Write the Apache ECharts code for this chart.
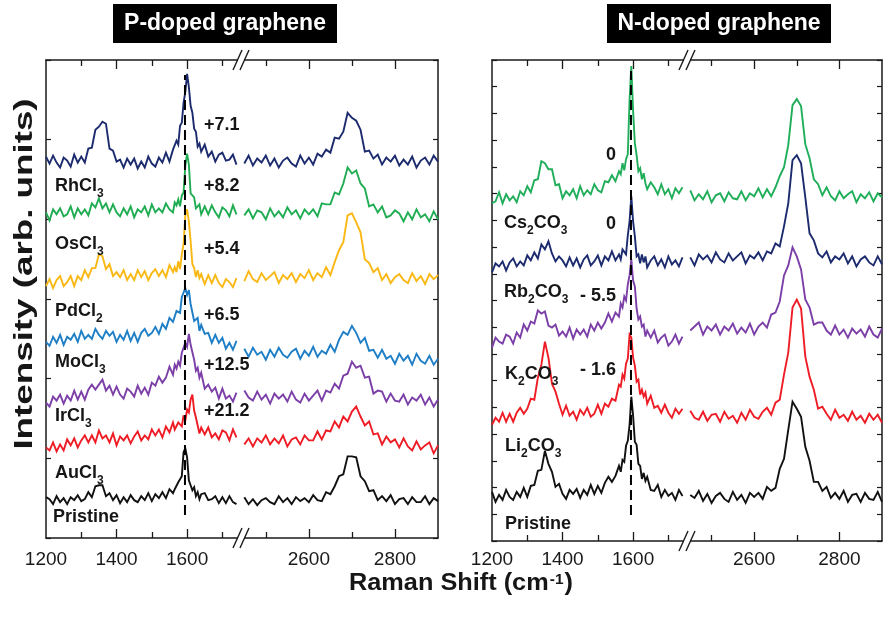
<!DOCTYPE html>
<html><head><meta charset="utf-8">
<script src="https://cdn.jsdelivr.net/npm/echarts@6/dist/echarts.min.js"></script>
<style>html,body{margin:0;padding:0;background:#fff}#c{width:884px;height:625px}</style>
</head><body><div id="c"></div>
<script>
// ---- x grids (Raman shift, cm-1) ----
const xLeft = [1200,1210,1220,1230,1240,1250,1260,1270,1280,1290,1300,1310,1320,1330,1340,1350,1360,1370,1380,1390,1400,1410,1420,1430,1440,1450,1460,1470,1480,1490,1500,1510,1520,1530,1540,1550,1560,1565,1570,1575,1580,1585,1590,1595,1600,1605,1610,1615,1620,1625,1630,1635,1640,1650,1660,1670,1680,1690,1700,1710,1720,1730,1740];
const xRight = [2450,2460,2470,2480,2490,2500,2510,2520,2530,2540,2550,2560,2570,2580,2590,2600,2610,2620,2630,2640,2650,2660,2670,2680,2690,2700,2710,2720,2730,2740,2750,2760,2770,2780,2790,2800,2810,2820,2830,2840,2850,2860,2870,2880,2890,2900];

// ---- tick labels ----
const tickLabelsLow = [1200,1400,1600];
const tickLabelsHigh = [2600,2800];
const majorLow = [1400,1600], minorLow = [1300,1500,1700];
const majorHigh = [2600,2800], minorHigh = [2500,2700];

// ---- P-doped graphene (intensity, offset-stacked) ----
const pNames = ['RhCl_3','OsCl_3','PdCl_2','MoCl_3','IrCl_3','AuCl_3','Pristine'];
const pShifts = ['+7.1','+8.2','+5.4','+6.5','+12.5','+21.2'];
const pRhCl3_lo = [383,376,384,377,372,382,379,373,385,377,383,377,391,392,410,413,418,416,391,389,378,380,372,381,375,381,371,378,372,383,376,373,382,377,387,378,390,389,399,395,414,417,437,448,466,453,434,427,411,408,393,396,388,395,383,388,378,385,387,379,380,385,375];
const pRhCl3_hi = [376,384,374,381,377,384,374,381,372,379,382,376,373,384,376,382,375,386,383,390,387,402,401,408,427,422,419,410,388,389,381,385,375,382,378,384,374,380,375,383,372,379,382,375,384,378];
const pOsCl3_lo = [327,319,330,325,331,323,325,333,322,331,325,330,324,336,332,341,331,336,327,335,327,323,331,325,333,322,330,327,333,324,335,327,331,327,336,330,327,337,334,340,333,344,347,374,386,375,346,344,342,331,331,335,325,333,325,334,327,322,332,329,323,334,325];
const pOsCl3_hi = [324,330,321,329,327,320,331,323,328,322,332,325,329,321,330,325,330,323,336,335,335,347,345,356,372,366,369,356,351,333,335,327,333,322,324,329,326,318,327,320,330,322,325,318,328,320];
const pPdCl2_lo = [253,260,251,259,263,253,257,263,253,263,259,269,262,271,271,285,283,270,275,263,267,262,269,259,265,259,269,262,268,259,266,270,263,269,262,274,267,272,267,278,270,285,295,324,330,318,298,275,271,262,269,261,265,255,264,256,264,256,252,260,257,252,261];
const pPdCl2_hi = [258,268,260,257,266,259,263,267,256,264,260,266,257,265,261,269,259,266,262,272,264,277,289,297,324,326,317,307,280,276,267,271,259,265,256,262,265,259,256,266,258,263,255,265,260,264];
const pMoCl3_lo = [197,193,202,196,204,194,202,199,205,197,208,200,204,200,210,204,200,208,203,207,197,204,199,208,198,206,197,206,210,203,206,212,205,215,210,221,217,215,228,228,226,242,240,251,244,249,235,233,218,216,221,208,214,205,206,196,204,196,201,190,196,189,198];
const pMoCl3_hi = [190,182,191,184,187,179,189,182,191,184,181,187,190,180,188,183,192,182,188,185,194,187,199,207,204,213,206,196,201,188,189,181,189,180,183,175,185,178,183,174,185,178,175,183,174,180];
const pIrCl3_lo = [136,132,142,138,144,135,143,138,148,139,147,139,149,154,149,154,159,148,153,144,152,144,140,150,147,142,153,145,151,144,156,153,162,156,161,172,164,174,170,177,173,186,184,196,192,205,194,195,179,168,171,161,166,150,154,147,151,140,150,140,143,137,146];
const pIrCl3_hi = [148,141,138,147,139,144,135,145,140,144,137,147,139,136,145,138,143,148,138,148,146,155,150,163,165,177,171,173,161,162,145,148,147,137,145,138,137,144,134,141,138,144,134,141,132,139];
const pAuCl3_lo = [91,88,96,87,94,88,99,93,100,91,98,103,96,103,96,108,100,103,96,105,93,102,98,103,95,102,107,98,103,99,109,103,109,101,112,106,116,109,107,116,115,112,123,118,129,126,139,144,128,121,120,105,111,104,111,101,105,99,108,106,98,109,101];
const pAuCl3_hi = [94,100,92,100,96,103,94,100,95,103,92,99,101,94,103,98,98,107,99,108,107,117,111,122,117,127,132,122,113,117,104,105,94,102,96,99,91,100,92,88,97,89,93,96,85,93];
const pPristine_lo = [41,39,34,42,36,40,34,41,38,43,37,39,46,41,52,53,53,42,45,38,43,35,41,36,43,38,36,42,38,45,37,44,40,46,40,49,45,49,47,56,54,62,86,90,81,58,56,48,51,42,46,39,44,45,38,39,42,35,41,35,42,36,34];
const pPristine_hi = [41,34,39,33,38,40,36,34,42,36,40,34,41,37,40,36,43,38,37,46,44,52,62,64,82,82,81,62,57,47,48,38,42,37,43,34,39,40,34,41,36,36,42,34,40,37];

// ---- N-doped graphene ----
const nNames = ['Cs_2CO_3','Rb_2CO_3','K_2CO_3','Li_2CO_3','Pristine'];
const nShifts = ['0','0','- 5.5','- 1.6'];
const nCs_lo = [337,339,348,337,346,340,344,338,349,345,354,348,360,361,379,377,371,371,355,356,342,349,345,351,342,354,345,350,346,356,350,348,359,358,365,359,369,366,377,370,381,386,440,474,429,397,385,369,372,361,367,357,351,358,353,346,356,346,351,342,352,347,353];
const nCs_hi = [350,340,346,341,349,338,345,347,339,348,342,341,349,340,347,344,352,343,351,344,353,364,373,395,435,441,434,396,382,361,356,345,353,344,340,349,342,346,349,338,346,342,348,339,347,343];
const nRb_lo = [268,277,274,279,270,278,282,274,279,275,285,280,288,282,296,291,299,287,279,284,280,274,283,275,282,273,281,285,275,279,285,275,284,280,289,280,286,281,291,291,286,305,319,344,319,304,284,286,277,286,278,284,273,280,284,275,281,273,284,276,280,274,283];
const nRb_hi = [283,275,286,281,285,278,288,281,278,287,280,284,288,277,285,282,288,280,289,287,297,294,314,337,380,385,377,343,307,300,287,283,289,278,284,281,287,277,284,274,281,284,278,275,284,276];
const nK_lo = [193,203,199,197,206,204,197,208,203,216,210,219,217,230,227,229,215,213,216,205,209,204,213,202,211,206,211,204,216,210,218,212,218,227,219,228,224,237,233,244,240,256,265,281,260,254,232,221,224,214,216,204,210,203,210,198,203,206,195,199,206,197,204];
const nK_hi = [210,214,218,206,214,210,216,206,214,210,217,207,213,208,217,206,214,218,213,226,228,239,265,275,293,284,271,241,233,216,218,218,210,206,215,206,211,203,212,207,211,204,214,206,203,212];
const nLi_lo = [116,123,119,128,119,127,119,128,133,127,132,142,141,163,176,199,183,157,149,137,126,135,125,129,121,131,126,133,124,127,136,127,137,134,142,140,156,154,166,162,177,182,206,203,183,175,159,161,146,151,144,148,137,145,133,135,128,136,128,123,132,127,132];
const nLi_hi = [130,123,121,129,120,126,127,119,129,122,125,118,128,121,131,124,122,129,133,126,138,141,166,188,233,241,232,184,164,151,132,134,127,121,131,123,126,120,129,121,125,118,127,121,126,118];
const nPristine_lo = [49,39,46,41,51,44,41,49,44,53,44,55,56,70,71,90,77,69,54,57,47,42,51,47,52,43,51,46,56,47,55,48,58,64,59,65,75,69,81,79,95,100,116,144,125,99,96,77,75,62,68,60,64,51,50,56,44,51,45,48,41,51,45];
const nPristine_hi = [46,43,50,40,47,38,45,48,42,39,49,41,46,38,48,44,48,42,54,50,53,72,82,111,139,132,124,94,80,59,59,50,54,43,48,42,50,39,46,47,39,48,42,41,49,39];

// ---- G-band reference (dashed) ----
const dashP = [[1594,23],[1594,465]];
const dashN = [[1594,26],[1594,469]];

// ================= styling / layout =================
const F = '"Liberation Sans", Arial, sans-serif';
const AX = '#1a1a1a', TXT = '#161616';
const colP = ['#1c2b6e','#1fac52','#f9b814','#1f7fc6','#7b3fa7','#ee1c25','#111111'];
const colN = ['#20ae5a','#1c2b6e','#7b3fa7','#ee1c25','#111111'];
const pLo = [pRhCl3_lo,pOsCl3_lo,pPdCl2_lo,pMoCl3_lo,pIrCl3_lo,pAuCl3_lo,pPristine_lo];
const pHi = [pRhCl3_hi,pOsCl3_hi,pPdCl2_hi,pMoCl3_hi,pIrCl3_hi,pAuCl3_hi,pPristine_hi];
const nLo = [nCs_lo,nRb_lo,nK_lo,nLi_lo,nPristine_lo];
const nHi = [nCs_hi,nRb_hi,nK_hi,nLi_hi,nPristine_hi];

const grids = [
  {left:46, top:60, width:194, height:478},
  {left:240, top:60, width:198, height:478},
  {left:492, top:60, width:194, height:481},
  {left:686, top:60, width:196, height:481}
];
const ranges = [[1200,1750],[2440,2900],[1200,1750],[2440,2900]];
const majors = [majorLow, majorHigh, majorLow, majorHigh];
const minors = [minorLow, minorHigh, minorLow, minorHigh];
const labs = [tickLabelsLow, tickLabelsHigh, tickLabelsLow, tickLabelsHigh];

const xAxes = [];
grids.forEach((g, gi) => {
  const c = {type:'value', gridIndex:gi, min:ranges[gi][0], max:ranges[gi][1], splitLine:{show:false}};
  xAxes.push(Object.assign({}, c, {position:'bottom',
    axisLine:{show:true, onZero:false, lineStyle:{color:AX, width:1.5}},
    axisTick:{show:true, inside:true, length:9, customValues:majors[gi], lineStyle:{color:AX, width:1.3}},
    axisLabel:{show:true, customValues:labs[gi], margin: gi<2 ? 12 : 9, fontSize:19, color:'#1a1a1a', fontFamily:F, formatter:v=>String(v)}}));
  xAxes.push(Object.assign({}, c, {position:'bottom',
    axisLine:{show:false, onZero:false},
    axisTick:{show:true, inside:true, length:6, customValues:minors[gi], lineStyle:{color:AX, width:1.3}},
    axisLabel:{show:false}}));
  xAxes.push(Object.assign({}, c, {position:'top',
    axisLine:{show:true, onZero:false, lineStyle:{color:AX, width:1.5}},
    axisTick:{show:true, inside:true, length:9, customValues:majors[gi], lineStyle:{color:AX, width:1.3}},
    axisLabel:{show:false}}));
  xAxes.push(Object.assign({}, c, {position:'top',
    axisLine:{show:false, onZero:false},
    axisTick:{show:true, inside:true, length:6, customValues:minors[gi], lineStyle:{color:AX, width:1.3}},
    axisLabel:{show:false}}));
});
const yAxes = grids.map((g, gi) => ({type:'value', gridIndex:gi, position: gi % 2 === 0 ? 'left' : 'right',
  min:0, max:480, interval: gi < 2 ? 80 : 80/3,
  axisLine:{show:true, onZero:false, lineStyle:{color:AX, width:1.5}},
  axisTick:{show:true, inside:true, length:5, lineStyle:{color:AX, width:1.2}},
  axisLabel:{show:false}, splitLine:{show:false}}));

const pts = (xs, ys) => xs.map((x, i) => [x, ys[i]]);
const line = (gi, data, color, extra) => Object.assign({type:'line', xAxisIndex:gi*4, yAxisIndex:gi, data,
  symbol:'none', showSymbol:false, smooth:false, lineStyle:{color, width:1.9, join:'miter', miterLimit:4}, emphasis:{disabled:true}}, extra||{});
const series = [];
pLo.forEach((a, k) => { series.push(line(0, pts(xLeft, a), colP[k])); series.push(line(1, pts(xRight, pHi[k]), colP[k])); });
nLo.forEach((a, k) => { series.push(line(2, pts(xLeft, a), colN[k])); series.push(line(3, pts(xRight, nHi[k]), colN[k])); });
series.push(line(0, dashP, '#000', {lineStyle:{color:'#000', width:2, type:[10,5]}, z:5}));
series.push(line(2, dashN, '#000', {lineStyle:{color:'#000', width:2, type:[10,5]}, z:5}));

// ---- text graphics ----
const toRich = s => '{m|' + s.replace(/_(\d)/g, '}{s|$1}{m|') + '}';
const richLab = {
  m:{fontSize:18, fontWeight:'bold', fontFamily:F, fill:TXT, color:TXT, lineHeight:22, verticalAlign:'top'},
  s:{fontSize:12, fontWeight:'bold', fontFamily:F, fill:TXT, color:TXT, lineHeight:12, padding:[11,0,0,0], verticalAlign:'top'}
};
const pNamePos = [[55,188],[55,246],[55,313],[55,364],[55,418],[55,475],[53,519]];
const pShiftPos = [[204,127],[204,188],[204,251],[204,317],[204,367],[204,413]];
const nNamePos = [[504,225],[504,294],[505,376],[505,448],[505,526]];
const nShiftPos = [[616,157],[616,226],[616,298],[616,372]];
const txt = (x, y, text, align) => ({type:'text', x, y, z:10, style:{text:toRich(text), rich:richLab,
  align:align||'left', textAlign:align||'left', verticalAlign:'middle', textVerticalAlign:'middle'}});
const graphics = [];
pNames.forEach((s,i) => graphics.push(txt(pNamePos[i][0], pNamePos[i][1], s)));
pShifts.forEach((s,i) => graphics.push(txt(pShiftPos[i][0], pShiftPos[i][1], s)));
nNames.forEach((s,i) => graphics.push(txt(nNamePos[i][0], nNamePos[i][1], s)));
nShifts.forEach((s,i) => graphics.push(txt(nShiftPos[i][0], nShiftPos[i][1], s, 'right')));

// title boxes
[[113,'P-doped graphene'],[607,'N-doped graphene']].forEach(([x, t]) => {
  graphics.push({type:'rect', shape:{x, y:4, width:224, height:39}, style:{fill:'#000'}, z:10});
  graphics.push({type:'text', x:x+112, y:24, z:11, style:{text:t, fill:'#fff', fontSize:23, fontWeight:'bold', fontFamily:F,
    align:'center', textAlign:'center', verticalAlign:'middle', textVerticalAlign:'middle'}});
});
// axis titles
graphics.push({type:'text', x:25, y:274, rotation:Math.PI/2, scaleX:1.47, z:10, style:{text:'Intensity (arb. units)', fill:TXT,
  fontSize:25, fontWeight:'bold', fontFamily:F, align:'center', textAlign:'center', verticalAlign:'middle', textVerticalAlign:'middle'}});
graphics.push({type:'text', x:461, y:586, scaleX:1.1, z:10, style:{text:'{m|Raman Shift (cm}{p|-1}{m|)}',
  rich:{m:{fontSize:23, fontWeight:'bold', fontFamily:F, fill:TXT, lineHeight:28, verticalAlign:'top'},
        p:{fontSize:14, fontWeight:'bold', fontFamily:F, fill:TXT, lineHeight:14, verticalAlign:'top', padding:[1,1,0,1]}},
  align:'center', textAlign:'center', verticalAlign:'middle', textVerticalAlign:'middle'}});
// axis breaks
[[241,60],[241,538],[687,60],[687,541]].forEach(([cx, cy]) => {
  graphics.push({type:'rect', shape:{x:cx-3, y:cy-3, width:6, height:6}, style:{fill:'#fff'}, z:12});
  graphics.push({type:'line', shape:{x1:cx-8, y1:cy+10, x2:cx+1, y2:cy-10}, style:{stroke:AX, lineWidth:1.4}, z:13});
  graphics.push({type:'line', shape:{x1:cx-1, y1:cy+10, x2:cx+8, y2:cy-10}, style:{stroke:AX, lineWidth:1.4}, z:13});
});

const chart = echarts.init(document.getElementById('c'));
chart.setOption({animation:false, backgroundColor:'#fff', grid:grids, xAxis:xAxes, yAxis:yAxes, series, graphic:graphics});
</script></body></html>
